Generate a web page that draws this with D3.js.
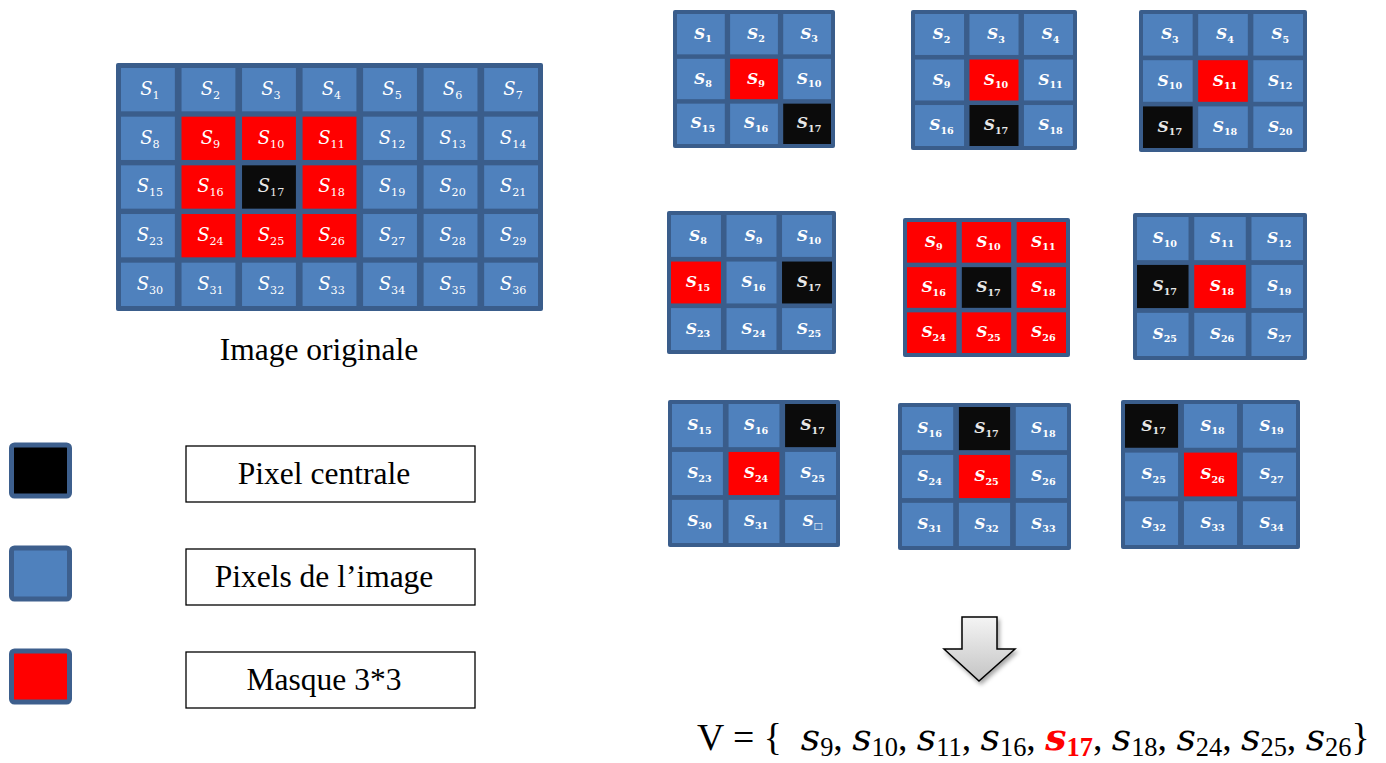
<!DOCTYPE html>
<html>
<head>
<meta charset="utf-8">
<script src="https://cdn.jsdelivr.net/npm/d3@7"></script>
<style>
body{margin:0;background:#fff;}
svg{display:block;}
</style>
</head>
<body>
<svg width="1386" height="763"></svg>
<script>
// image pixels (5 rows x 7 cols), note 22 is skipped in the original
var mainLabels = [1,2,3,4,5,6,7, 8,9,10,11,12,13,14, 15,16,17,18,19,20,21, 23,24,25,26,27,28,29, 30,31,32,33,34,35,36];
var mainCols = 7;
var centerPixel = 17;
var maskPixels = [9,10,11,16,18,24,25,26];

// the nine 3x3 windows
var windowLabels = [
    [1,2,3,8,9,10,15,16,17],
    [2,3,4,9,10,11,16,17,18],
    [3,4,5,10,11,12,17,18,20],
    [8,9,10,15,16,17,23,24,25],
    [9,10,11,16,17,18,24,25,26],
    [10,11,12,17,18,19,25,26,27],
    [15,16,17,23,24,25,30,31,"\u25A1"],
    [16,17,18,24,25,26,31,32,33],
    [17,18,19,25,26,27,32,33,34]
];
var windowMask = [[9],[10],[11],[15],[9,10,11,16,18,24,25,26],[18],[24],[25],[26]];

var legendNames = ["Pixel centrale", "Pixels de l\u2019image", "Masque 3*3"];
var legendFills = ["#000000", "#4f81bd", "#ff0000"];
var captionText = "Image originale";
var vectorTerms = [9,10,11,16,17,18,24,25,26];

// layout
var mainBox = [116,63,543,311];
var panelBoxes = [
    [673,10,835,148],[911,10,1077,150],[1139,10,1307,152],
    [667,211,836,354],[903,218,1070,357],[1133,213,1307,360],
    [668,400,840,547],[898,403,1071,550],[1121,400,1300,549]
];
var cellBlue = "#4f81bd", gridDark = "#3a5d8b";
var serif = "'Liberation Serif', 'Times New Roman', serif";

var svg = d3.select("svg");

function drawGrid(labels, cols, box, mask, center, opt){
    var rows = labels.length / cols;
    var g = svg.append("g");
    g.append("rect")
        .attr("x", box[0]).attr("y", box[1])
        .attr("width", box[2]-box[0]).attr("height", box[3]-box[1])
        .attr("rx", 2)
        .attr("fill", gridDark);
    var x = d3.scaleBand().domain(d3.range(cols)).range([box[0]+opt.pad, box[2]-opt.pad]).paddingInner(opt.gap);
    var y = d3.scaleBand().domain(d3.range(rows)).range([box[1]+opt.pad, box[3]-opt.pad]).paddingInner(opt.gap);
    var cells = g.selectAll("g.cell").data(labels).enter().append("g").attr("class","cell");
    cells.append("rect")
        .attr("x", function(d,i){ return x(i % cols); })
        .attr("y", function(d,i){ return y(Math.floor(i / cols)); })
        .attr("width", x.bandwidth())
        .attr("height", y.bandwidth())
        .attr("fill", function(d){
            if(d === center) return "#0b0b0b";
            if(mask.indexOf(d) >= 0) return "#ff0000";
            return cellBlue;
        });
    var t = cells.append("text")
        .attr("x", function(d,i){ return x(i % cols) + x.bandwidth()/2 + 2; })
        .attr("y", function(d,i){ return y(Math.floor(i / cols)) + y.bandwidth()/2 + opt.fs*0.3; })
        .attr("text-anchor", "middle")
        .attr("fill", function(d){ return d === center ? "#e8e8e8" : "#ffffff"; })
        .attr("font-family", "DejaVu Serif")
        .attr("font-weight", opt.bold ? "bold" : "normal")
        .attr("font-style", "italic");
    t.append("tspan").attr("font-size", opt.fs).text("S");
    t.append("tspan")
        .attr("font-size", opt.fs*0.62)
        .attr("font-style", "normal")
        .attr("dy", opt.fs*0.22)
        .text(function(d){ return d; });
}

drawGrid(mainLabels, mainCols, mainBox, maskPixels, centerPixel, {pad:5, gap:0.11, fs:18, bold:false});
for(var i = 0; i < windowLabels.length; i++){
    drawGrid(windowLabels[i], 3, panelBoxes[i], windowMask[i], centerPixel, {pad:4, gap:0.1, fs:15.5, bold:true});
}

svg.append("text")
    .attr("x", 319).attr("y", 360)
    .attr("text-anchor", "middle")
    .attr("font-family", serif)
    .attr("font-size", 31.5)
    .text(captionText);

// legend
var ly = d3.scalePoint().domain(legendNames).range([472, 678]);
var lg = svg.selectAll("g.legend").data(legendNames).enter().append("g").attr("class","legend");
lg.append("rect")
    .attr("x", 11.5).attr("y", function(d){ return ly(d) - 27; })
    .attr("width", 58).attr("height", 51)
    .attr("rx", 3)
    .attr("fill", function(d,i){ return legendFills[i]; })
    .attr("stroke", "#3d5f8d")
    .attr("stroke-width", 5);
lg.append("rect")
    .attr("x", 186).attr("y", function(d){ return ly(d) - 26; })
    .attr("width", 289).attr("height", 56)
    .attr("fill", "#fff")
    .attr("stroke", "#000")
    .attr("stroke-width", 1.3);
lg.append("text")
    .attr("x", 324).attr("y", function(d){ return ly(d) + 12; })
    .attr("text-anchor", "middle")
    .attr("font-family", serif)
    .attr("font-size", 31.5)
    .text(function(d){ return d; });

// arrow
var defs = svg.append("defs");
var grad = defs.append("linearGradient").attr("id","ag").attr("x1",0).attr("y1",0).attr("x2",0).attr("y2",1);
grad.append("stop").attr("offset","0%").attr("stop-color","#f4f4f4");
grad.append("stop").attr("offset","100%").attr("stop-color","#c4c4c4");
defs.append("filter").attr("id","sh").attr("x","-30%").attr("y","-30%").attr("width","160%").attr("height","160%")
    .append("feDropShadow").attr("dx",2).attr("dy",3).attr("stdDeviation",2).attr("flood-opacity",0.35);
svg.append("path")
    .attr("d", "M962,617 L997,617 L997,649 L1015,649 L979,681 L944,649 L962,649 Z")
    .attr("fill", "url(#ag)")
    .attr("stroke", "#000")
    .attr("stroke-width", 1.5)
    .attr("stroke-linejoin", "miter")
    .attr("filter", "url(#sh)");

// V = { ... }
var fs = 30;
var sub = 0.17;
var vt = svg.append("text")
    .attr("x", 697).attr("y", 750)
    .attr("font-family", serif)
    .attr("font-size", fs);
vt.append("tspan").text("V = {\u00A0\u00A0");
vectorTerms.forEach(function(v, i){
    var hot = v === centerPixel;
    vt.append("tspan")
        .attr("font-family", "DejaVu Serif")
        .attr("font-style", "italic")
        .attr("font-weight", hot ? "bold" : "normal")
        .attr("fill", hot ? "#ff0000" : "#000")
        .text("s");
    vt.append("tspan")
        .attr("font-size", fs*0.7)
        .attr("font-weight", hot ? "bold" : "normal")
        .attr("fill", hot ? "#ff0000" : "#000")
        .attr("dy", sub*fs)
        .text(v);
    vt.append("tspan")
        .attr("dy", -sub*fs)
        .text(i < vectorTerms.length - 1 ? ",\u00A0" : "}");
});
var w = vt.node().getComputedTextLength();
var k = 673 / w;
vt.attr("font-size", fs * k);
vt.selectAll("tspan").each(function(){
    var el = d3.select(this);
    var a = el.attr("font-size");
    if(a) el.attr("font-size", +a * k);
    var dy = el.attr("dy");
    if(dy) el.attr("dy", +dy * k);
});
</script>
</body>
</html>
